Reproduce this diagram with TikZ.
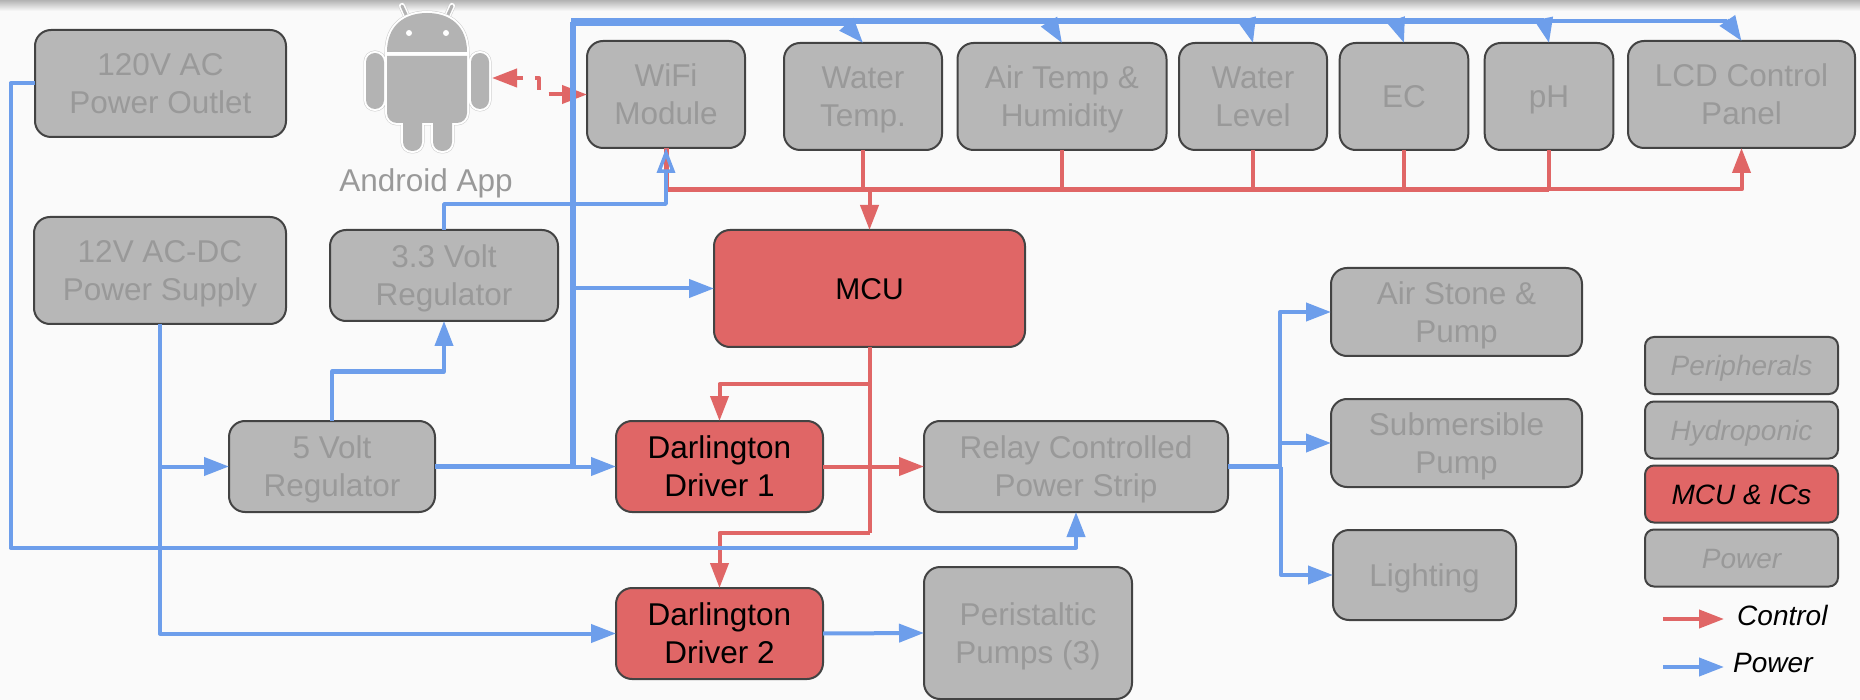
\documentclass[tikz,border=0pt]{standalone}
\usepackage{fontspec}
\setmainfont{Liberation Sans}
\usetikzlibrary{arrows.meta,calc}
\definecolor{pagebg}{HTML}{FAFAFA}
\definecolor{pblue}{HTML}{6D9EEB}
\definecolor{cred}{HTML}{E06666}
\definecolor{boxgray}{HTML}{B7B7B7}
\definecolor{txtgray}{HTML}{999999}
\definecolor{edgegray}{HTML}{434343}
\definecolor{droidgray}{HTML}{B3B3B3}
\definecolor{hairgray}{HTML}{CCCCCC}
\newcommand{\tl}{\rule{0pt}{30.6pt}}
\newcommand{\bl}{\rule[-8pt]{0pt}{1pt}}
\newcommand{\tlg}{\rule{0pt}{27.5pt}}
\newcommand{\blg}{\rule[-7pt]{0pt}{1pt}}
\tikzset{
  bigfont/.style={font=\fontsize{31.5}{38}\selectfont},
  gbox/.style={draw=edgegray,fill=boxgray,text=txtgray,line width=2pt,rounded corners=16pt,
    align=center,inner sep=0pt,outer sep=0pt,bigfont},
  rbox/.style={gbox,fill=cred,text=black},
  lgbox/.style={draw=edgegray,fill=boxgray,text=txtgray,line width=2pt,rounded corners=9pt,
    align=center,inner sep=0pt,outer sep=0pt,font=\fontsize{28}{34}\selectfont\itshape},
  lrbox/.style={lgbox,fill=cred,text=black},
  headtip/.tip={Triangle[length=25pt,width=18pt]},
  base/.style={line width=4pt,line join=round},
  powline/.style={base,draw=pblue},
  ctlline/.style={base,draw=cred},
  powarrow/.style={powline,-{headtip}},
  ctlarrow/.style={ctlline,-{headtip}},
  legendtext/.style={font=\fontsize{28}{34}\selectfont\itshape,text=black,inner sep=0pt,anchor=west},
}
\newcommand{\droidshapes}{
  (387,52) .. controls (387,25) and (405,13) .. (427,13) .. controls (449,13) and (467,25) .. (467,52) -- cycle
  (387,56) [rounded corners=10pt] -- (387,123) -- (467,123) [sharp corners] -- (467,56) -- cycle
  [rounded corners=9pt] (366,53) rectangle (384,109) (471,53) rectangle (489,109) [sharp corners]
  (403,118) [rounded corners=9pt] -- (403,151) -- (422,151) [sharp corners] -- (422,118) -- cycle
  (433,118) [rounded corners=9pt] -- (433,151) -- (452,151) [sharp corners] -- (452,118) -- cycle
}
\begin{document}
\begin{tikzpicture}[x=1pt,y=-1pt]
\useasboundingbox (0,0) rectangle (1860,700);
\fill[pagebg] (0,0) rectangle (1860,700);
\fill[top color=gray!60,bottom color=pagebg] (0,0) rectangle (1860,11);

% android icon
\foreach \ax/\ay/\bx/\by in {408/19/402/6,446/19/452/6}{
  \draw[hairgray,line width=7pt,line cap=round] (\ax,\ay) -- (\bx,\by);
  \draw[white,line width=6pt,line cap=round] (\ax,\ay) -- (\bx,\by);
  \draw[droidgray,line width=3pt,line cap=round] (\ax,\ay) -- (\bx,\by);
}
\path[draw=hairgray,line width=5pt] \droidshapes;
\path[draw=white,line width=4pt] \droidshapes;
\path[fill=droidgray] \droidshapes;
\fill[white] (409,33) circle (3pt) (446,33) circle (3pt);
\node[bigfont,text=txtgray,inner sep=0pt] (applabel) at (426,183) {Android App};
\coordinate (androidport) at (492,78);

% blocks
\node[gbox,minimum width=251pt,minimum height=107pt] (outlet) at (160.5,83.5) {\tl 120V AC\\Power Outlet\bl};
\node[gbox,minimum width=252pt,minimum height=107pt] (supply) at (160,270.5) {\tl 12V AC-DC\\Power Supply\bl};
\node[gbox,minimum width=228pt,minimum height=91pt] (regthree) at (444,275.5) {\tl 3.3 Volt\\Regulator\bl};
\node[gbox,minimum width=206pt,minimum height=91pt] (regfive) at (332,466.5) {\tl 5 Volt\\Regulator\bl};
\node[gbox,minimum width=158pt,minimum height=107pt] (wifi) at (666,94.5) {\tl WiFi\\Module\bl};
\node[gbox,minimum width=158pt,minimum height=107pt] (wtemp) at (863,96.5) {\tl Water\\Temp.\bl};
\node[gbox,minimum width=209pt,minimum height=107pt] (airtemp) at (1062,96.5) {\tl Air Temp \&\\Humidity\bl};
\node[gbox,minimum width=148pt,minimum height=107pt] (wlevel) at (1253,96.5) {\tl Water\\Level\bl};
\node[gbox,minimum width=128.6pt,minimum height=107pt] (ec) at (1404,96.5) {\tl EC\bl};
\node[gbox,minimum width=128.6pt,minimum height=107pt] (ph) at (1549,96.5) {\tl pH\bl};
\node[gbox,minimum width=227pt,minimum height=107pt] (lcd) at (1741.5,94.5) {\tl LCD Control\\Panel\bl};
\node[rbox,font=\fontsize{30}{38}\selectfont,minimum width=311pt,minimum height=117pt] (mcu) at (869.5,288.5) {\tl MCU\bl};
\node[rbox,minimum width=207pt,minimum height=91pt] (done) at (719.5,466.5) {\tl Darlington\\Driver 1\bl};
\node[rbox,minimum width=207pt,minimum height=91pt] (dtwo) at (719.5,633.5) {\tl Darlington\\Driver 2\bl};
\node[gbox,minimum width=304pt,minimum height=91pt] (relay) at (1076,466.5) {\tl Relay Controlled\\Power Strip\bl};
\node[gbox,minimum width=208pt,minimum height=132pt] (peri) at (1028,633) {\tl Peristaltic\\Pumps (3)\bl};
\node[gbox,minimum width=251pt,minimum height=88pt] (airstone) at (1456.5,312) {\tl Air Stone \&\\Pump\bl};
\node[gbox,minimum width=251pt,minimum height=88pt] (subm) at (1456.5,443) {\tl Submersible\\Pump\bl};
\node[gbox,minimum width=183pt,minimum height=90pt] (light) at (1424.5,575) {\tl Lighting\bl};

% legend
\node[lgbox,minimum width=193pt,minimum height=57pt] (lgperi) at (1741.5,365.5) {\tlg Peripherals\blg};
\node[lgbox,minimum width=193pt,minimum height=57pt] (lghydro) at (1741.5,430) {\tlg Hydroponic\blg};
\node[lrbox,minimum width=193pt,minimum height=57pt] (lgmcu) at (1741.5,494) {\tlg MCU \& ICs\blg};
\node[lgbox,minimum width=193pt,minimum height=57pt] (lgpower) at (1741.5,558) {\tlg Power\blg};
\node[legendtext] (ctltext) at (1737,615) {Control};
\node[legendtext] (powtext) at (1733,663) {Power};
\coordinate (ctlstart) at (1663,619);
\coordinate (ctlend) at (1724,619);
\coordinate (powstart) at (1663,667);
\coordinate (powend) at (1724,667);
\draw[ctlarrow] (ctlstart) -- (ctlend);
\draw[powarrow] (powstart) -- (powend);

% junctions
\coordinate (redbus) at (666,189.5);
\coordinate (spine) at (573,466.5);
\coordinate (bustop) at (573,22.5);
\coordinate (jwt) at (846,24);
\coordinate (jair) at (1048,20);
\coordinate (jwl) at (1247,20);
\coordinate (jec) at (1396,20);
\coordinate (jph) at (1544,20);
\coordinate (jlcd) at (1727,20);
\coordinate (jrelay) at (1280,466.5);
\coordinate (jmcua) at (869.5,384);
\coordinate (jmcub) at (869.5,533);

% control wiring
\draw[ctlline,line width=5pt] (wifi.south) -- (redbus) -- (redbus -| ph.south);
\draw[ctlline] (wtemp.south) -- (wtemp.south |- redbus);
\draw[ctlline] (airtemp.south) -- (airtemp.south |- redbus);
\draw[ctlline] (wlevel.south) -- (wlevel.south |- redbus);
\draw[ctlline] (ec.south) -- (ec.south |- redbus);
\draw[ctlline] (ph.south) -- (ph.south |- redbus);
\draw[ctlarrow] (ph.south |- redbus) -| (lcd.south);
\draw[ctlarrow] (mcu.north |- redbus) -- (mcu.north);
\draw[ctlline] (mcu.south) -- (jmcua) -- (jmcub);
\draw[ctlarrow] (jmcua) -| (done.north);
\draw[ctlarrow] (jmcub) -| (dtwo.north);
\draw[ctlarrow] (done.east) -- (relay.west);
\draw[ctlline,{headtip}-{headtip},dash pattern=on 7pt off 12pt on 16pt off 14pt on 80pt]
  (androidport) -- (androidport -| 539,0) |- (wifi.west);

% power wiring
\draw[powarrow] (outlet.west) -| (10.5,547.5) -- (10.5,547.5 -| relay.south) -- (relay.south);
\draw[powarrow] (supply.south) |- (dtwo.west);
\draw[powarrow] (supply.south |- regfive.west) -- (regfive.west);
\draw[powline,line width=5.5pt] (regfive.east) -- (spine);
\draw[powarrow] (spine) -- (done.west);
\draw[powline,line width=6pt] (spine) -- (bustop);
\draw[powarrow] (spine |- mcu.west) -- (mcu.west);
\draw[powarrow] (regfive.north) |- (444,371.5) -- (regthree.south);
\draw[powline,line width=3.5pt] (regthree.north) |- (666,204) -- (666,175);
\draw[pblue,line width=3.5pt,line join=miter,-{Triangle[open,length=25pt,width=18pt]}] (666,176) -- (wifi.south);
\draw[powline,line width=8pt] (571,22.5) -- (846,22.5);
\draw[powline,line width=6pt] (846,21.5) -- (1048,21.5);
\draw[powline,line width=5.5pt] (1048,21) -- (1544,21);
\draw[powline] (1544,21.5) -- (1727,21.5);
\draw[powarrow] (jwt) -- (wtemp.north);
\draw[powarrow] (jair) -- (airtemp.north);
\draw[powarrow] (jwl) -- (wlevel.north);
\draw[powarrow] (jec) -- (ec.north);
\draw[powarrow] (jph) -- (ph.north);
\draw[powarrow] (jlcd) -- (lcd.north);
\draw[powline,line width=4.5pt] (relay.east) -- (jrelay);
\draw[powarrow] (jrelay) |- (airstone.west);
\draw[powarrow] (jrelay) |- (subm.west);
\draw[powarrow] (1281,466.5) |- (light.west);
\draw[powarrow] (dtwo.east) -- (peri.west);
\end{tikzpicture}
\end{document}
